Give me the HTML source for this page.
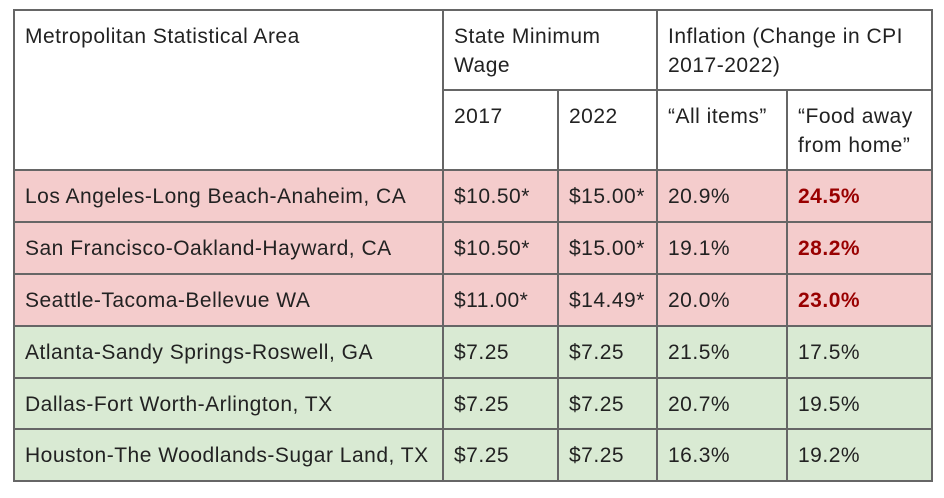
<!DOCTYPE html>
<html><head><meta charset="utf-8"><style>
html,body{margin:0;padding:0;background:#fff;width:944px;height:498px;overflow:hidden}
.t{position:relative;width:944px;height:498px;font-family:"Liberation Sans",Arial,sans-serif;font-size:21px;letter-spacing:0.5px;color:#222}
.c{position:absolute;box-sizing:border-box;border:2px solid #666;padding:0 4px 0 10px;line-height:29px;white-space:nowrap}
.h{padding-top:11px;background:#fff}
.d{display:flex;align-items:center}
.p{background:#f4cccc}.g{background:#d9ead3}
.r{color:#990000;font-weight:bold}
</style></head><body>
<div class="t">
<div class="c h" style="left:13px;top:9px;width:432px;height:163px">Metropolitan Statistical Area</div>
<div class="c h" style="left:442px;top:9px;width:217px;height:83px">State Minimum<br>Wage</div>
<div class="c h" style="left:656px;top:9px;width:277px;height:83px">Inflation (Change in CPI<br>2017-2022)</div>
<div class="c h" style="left:442px;top:89px;width:118px;height:83px">2017</div>
<div class="c h" style="left:557px;top:89px;width:102px;height:83px">2022</div>
<div class="c h" style="left:656px;top:89px;width:133px;height:83px">“All items”</div>
<div class="c h" style="left:786px;top:89px;width:147px;height:83px">“Food away<br>from home”</div>

<div class="c d p" style="left:13px;top:169px;width:432px;height:55px">Los Angeles-Long Beach-Anaheim, CA</div>
<div class="c d p" style="left:442px;top:169px;width:118px;height:55px">$10.50*</div>
<div class="c d p" style="left:557px;top:169px;width:102px;height:55px">$15.00*</div>
<div class="c d p" style="left:656px;top:169px;width:133px;height:55px">20.9%</div>
<div class="c d p r" style="left:786px;top:169px;width:147px;height:55px">24.5%</div>

<div class="c d p" style="left:13px;top:221px;width:432px;height:55px">San Francisco-Oakland-Hayward, CA</div>
<div class="c d p" style="left:442px;top:221px;width:118px;height:55px">$10.50*</div>
<div class="c d p" style="left:557px;top:221px;width:102px;height:55px">$15.00*</div>
<div class="c d p" style="left:656px;top:221px;width:133px;height:55px">19.1%</div>
<div class="c d p r" style="left:786px;top:221px;width:147px;height:55px">28.2%</div>

<div class="c d p" style="left:13px;top:273px;width:432px;height:55px">Seattle-Tacoma-Bellevue WA</div>
<div class="c d p" style="left:442px;top:273px;width:118px;height:55px">$11.00*</div>
<div class="c d p" style="left:557px;top:273px;width:102px;height:55px">$14.49*</div>
<div class="c d p" style="left:656px;top:273px;width:133px;height:55px">20.0%</div>
<div class="c d p r" style="left:786px;top:273px;width:147px;height:55px">23.0%</div>

<div class="c d g" style="left:13px;top:325px;width:432px;height:55px">Atlanta-Sandy Springs-Roswell, GA</div>
<div class="c d g" style="left:442px;top:325px;width:118px;height:55px">$7.25</div>
<div class="c d g" style="left:557px;top:325px;width:102px;height:55px">$7.25</div>
<div class="c d g" style="left:656px;top:325px;width:133px;height:55px">21.5%</div>
<div class="c d g" style="left:786px;top:325px;width:147px;height:55px">17.5%</div>

<div class="c d g" style="left:13px;top:377px;width:432px;height:54px">Dallas-Fort Worth-Arlington, TX</div>
<div class="c d g" style="left:442px;top:377px;width:118px;height:54px">$7.25</div>
<div class="c d g" style="left:557px;top:377px;width:102px;height:54px">$7.25</div>
<div class="c d g" style="left:656px;top:377px;width:133px;height:54px">20.7%</div>
<div class="c d g" style="left:786px;top:377px;width:147px;height:54px">19.5%</div>

<div class="c d g" style="left:13px;top:428px;width:432px;height:54px">Houston-The Woodlands-Sugar Land, TX</div>
<div class="c d g" style="left:442px;top:428px;width:118px;height:54px">$7.25</div>
<div class="c d g" style="left:557px;top:428px;width:102px;height:54px">$7.25</div>
<div class="c d g" style="left:656px;top:428px;width:133px;height:54px">16.3%</div>
<div class="c d g" style="left:786px;top:428px;width:147px;height:54px">19.2%</div>
</div>
</body></html>
